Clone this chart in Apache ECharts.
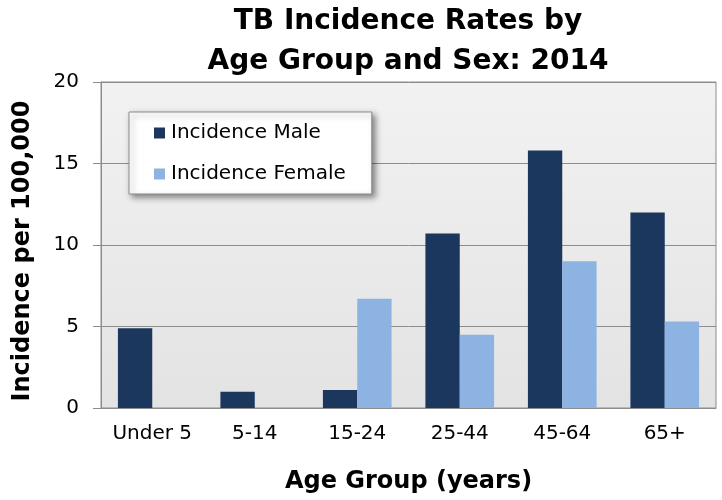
<!DOCTYPE html>
<html>
<head>
<meta charset="utf-8">
<script src="https://cdn.jsdelivr.net/npm/echarts@6/dist/echarts.min.js"></script>
<style>
  html, body { margin: 0; padding: 0; background: #fff; }
  #chart { width: 722px; height: 500px; }
</style>
</head>
<body>
<div id="chart"></div>
<script>
// kategoriler ve seriler
const ageGroups = ["Under 5", "5-14", "15-24", "25-44", "45-64", "65+"];
const maleRates = [4.9, 1.0, 1.1, 10.7, 15.8, 12.0];
const femaleRates = [0, 0, 6.7, 4.5, 9.0, 5.3];
const yTicks = [0, 5, 10, 15, 20];

const FONT = "DejaVu Sans, Verdana, sans-serif";
const chart = echarts.init(document.getElementById("chart"));

chart.setOption({
  animation: false,
  title: {
    text: "TB Incidence Rates by\nAge Group and Sex: 2014",
    left: 408,
    top: 2,
    padding: 0,
    textAlign: "center",
    textStyle: { fontFamily: FONT, fontSize: 28, fontWeight: "bold", lineHeight: 40, color: "#000" },
  },
  legend: {
    orient: "vertical",
    left: 129,
    top: 112,
    padding: [11, 26, 10, 25],
    itemGap: 21,
    itemWidth: 11,
    itemHeight: 11,
    icon: "rect",
    backgroundColor: "#fff",
    borderColor: "#8c8c8c",
    borderWidth: 1,
    shadowBlur: 6,
    shadowOffsetX: 3,
    shadowOffsetY: 3,
    shadowColor: "rgba(0,0,0,0.45)",
    textStyle: { fontFamily: FONT, fontSize: 20, color: "#000", padding: [0, 0, 0, 1] },
    data: ["Incidence Male", "Incidence Female"],
  },
  grid: {
    left: 101,
    right: 6,
    top: 82,
    bottom: 92,
    show: true,
    borderColor: "#8c8c8c",
    borderWidth: 1,
    backgroundColor: {
      type: "linear", x: 0, y: 0, x2: 0, y2: 1,
      colorStops: [
        { offset: 0, color: "#f2f2f2" },
        { offset: 1, color: "#e3e3e3" },
      ],
    },
  },
  xAxis: {
    type: "category",
    data: ageGroups,
    name: "Age Group (years)",
    nameLocation: "middle",
    nameGap: 62,
    nameTextStyle: { fontFamily: FONT, fontSize: 24, fontWeight: "bold", color: "#000" },
    axisLine: { lineStyle: { color: "#8c8c8c" } },
    axisTick: { interval: 0, length: 7, lineStyle: { color: "#8c8c8c" } },
    axisLabel: { interval: 0, fontFamily: FONT, fontSize: 20, color: "#000", margin: 16 },
  },
  yAxis: {
    type: "value",
    min: yTicks[0],
    max: yTicks[yTicks.length - 1],
    interval: 5,
    name: "Incidence per 100,000",
    nameLocation: "middle",
    nameGap: 66,
    nameTextStyle: { fontFamily: FONT, fontSize: 24, fontWeight: "bold", color: "#000", padding: [0, 12, 0, 0] },
    axisLine: { show: true, lineStyle: { color: "#8c8c8c" } },
    axisTick: { show: true, length: 8, lineStyle: { color: "#8c8c8c" } },
    axisLabel: { fontFamily: FONT, fontSize: 20, color: "#000", margin: 22 },
    splitLine: { lineStyle: { color: "#8c8c8c" } },
  },
  series: [
    {
      name: "Incidence Male",
      type: "bar",
      data: maleRates,
      barGap: "0%",
      barCategoryGap: "33%",
      itemStyle: { color: "#1b375e" },
    },
    {
      name: "Incidence Female",
      type: "bar",
      data: femaleRates,
      itemStyle: { color: "#8db3e2" },
    },
  ],
});
</script>
</body>
</html>
